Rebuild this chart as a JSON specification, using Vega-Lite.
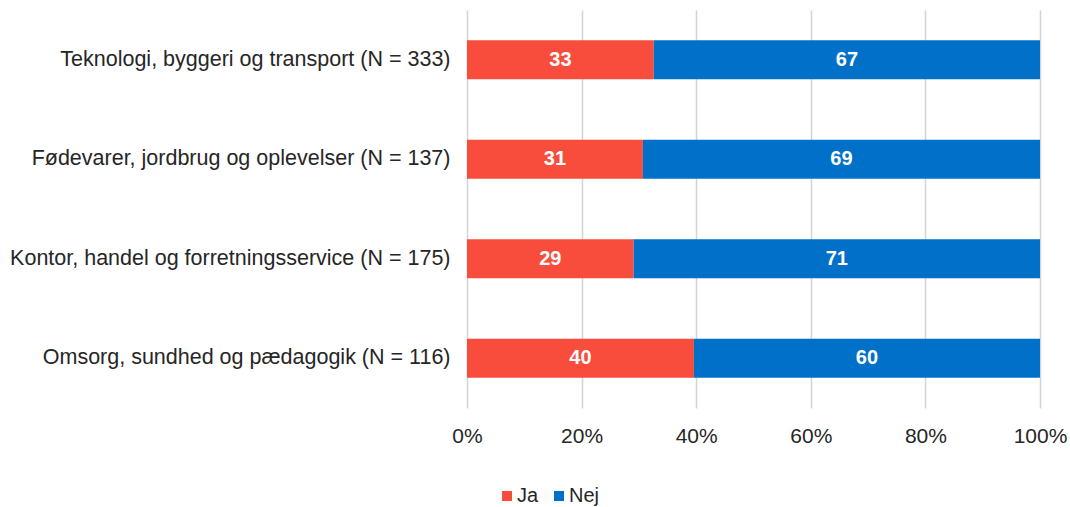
{
  "$schema": "https://vega.github.io/schema/vega-lite/v6.json",
  "autosize": "none",
  "width": 573,
  "height": 398,
  "padding": {"left": 467, "top": 10, "right": 30, "bottom": 99},
  "background": "white",
  "config": {
    "view": {"stroke": null},
    "font": "Liberation Sans"
  },
  "data": {
    "values": [
      {"cat": "Teknologi, byggeri og transport (N = 333)", "svar": "Ja", "pct": 32.6},
      {"cat": "Teknologi, byggeri og transport (N = 333)", "svar": "Nej", "pct": 67.4},
      {"cat": "Fødevarer, jordbrug og oplevelser (N = 137)", "svar": "Ja", "pct": 30.7},
      {"cat": "Fødevarer, jordbrug og oplevelser (N = 137)", "svar": "Nej", "pct": 69.3},
      {"cat": "Kontor, handel og forretningsservice (N = 175)", "svar": "Ja", "pct": 29.1},
      {"cat": "Kontor, handel og forretningsservice (N = 175)", "svar": "Nej", "pct": 70.9},
      {"cat": "Omsorg, sundhed og pædagogik (N = 116)", "svar": "Ja", "pct": 39.6},
      {"cat": "Omsorg, sundhed og pædagogik (N = 116)", "svar": "Nej", "pct": 60.4}
    ]
  },
  "transform": [
    {"calculate": "datum.svar === 'Ja' ? 0 : 1", "as": "ord"},
    {"stack": "pct", "groupby": ["cat"], "sort": [{"field": "ord", "order": "ascending"}], "as": ["x0", "x1"], "offset": "normalize"},
    {"calculate": "(datum.x0 + datum.x1) / 2", "as": "xm"}
  ],
  "encoding": {
    "y": {
      "field": "cat",
      "type": "nominal",
      "sort": null,
      "title": null,
      "scale": {"paddingInner": 0.61, "paddingOuter": 0.305},
      "axis": {
        "domain": false,
        "ticks": false,
        "labelFontSize": 21.5,
        "labelColor": "#262626",
        "labelPadding": 17,
        "labelLimit": 500
      }
    }
  },
  "layer": [
    {
      "mark": {"type": "bar"},
      "encoding": {
        "x": {
          "field": "x0",
          "type": "quantitative",
          "scale": {"domain": [0, 1]},
          "title": null,
          "axis": {
            "format": ".0%",
            "values": [0, 0.2, 0.4, 0.6, 0.8, 1],
            "domain": false,
            "ticks": false,
            "grid": true,
            "gridColor": "#d4d4d4",
            "gridWidth": 1.5,
            "labelFontSize": 21,
            "labelColor": "#262626",
            "labelPadding": 17,
            "labelFlush": false
          }
        },
        "x2": {"field": "x1"},
        "color": {
          "field": "svar",
          "type": "nominal",
          "scale": {"domain": ["Ja", "Nej"], "range": ["#F84D3C", "#0070C9"]},
          "legend": {
            "title": null,
            "orient": "none",
            "direction": "horizontal",
            "legendX": 30,
            "legendY": 476,
            "symbolType": "square",
            "symbolSize": 100,
            "symbolStrokeWidth": 0,
            "labelFontSize": 20,
            "labelColor": "#262626",
            "labelOffset": 0,
            "columnPadding": 10
          }
        }
      }
    },
    {
      "mark": {"type": "text", "color": "white", "fontWeight": "bold", "fontSize": 20, "baseline": "middle", "align": "center"},
      "encoding": {
        "x": {"field": "xm", "type": "quantitative"},
        "text": {"field": "pct", "type": "quantitative", "format": ".0f"}
      }
    }
  ]
}
